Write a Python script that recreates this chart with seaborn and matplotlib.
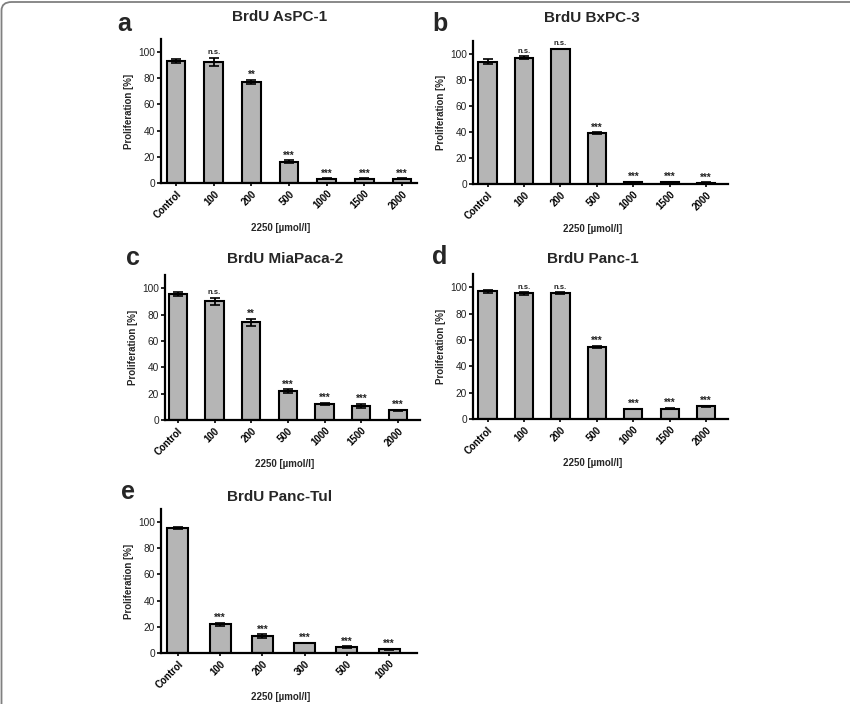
import matplotlib
matplotlib.use("Agg")
import matplotlib.pyplot as plt
import matplotlib.patches as mpatches
import seaborn as sns
import pandas as pd
import numpy as np

sns.set_theme(style="ticks")
plt.rcParams['font.family'] = ['Liberation Sans', 'DejaVu Sans']

# ---------------- data ----------------
cats_a = ["Control", "100", "200", "500", "1000", "1500", "2000"]
vals_a = [93.3, 92.7, 77.2, 16.2, 3.3, 3.3, 3.3]
errs_a = [1.8, 3.0, 1.8, 1.0, 0.4, 0.4, 0.4]
sig_a = ["", "n.s.", "**", "***", "***", "***", "***"]

cats_b = ["Control", "100", "200", "500", "1000", "1500", "2000"]
vals_b = [94.1, 97.2, 103.8, 38.9, 1.3, 1.3, 1.0]
errs_b = [2.0, 1.0, 0.3, 0.8, 0.3, 0.3, 0.3]
sig_b = ["", "n.s.", "n.s.", "***", "***", "***", "***"]

cats_c = ["Control", "100", "200", "500", "1000", "1500", "2000"]
vals_c = [95.5, 90.2, 74.0, 21.8, 12.4, 10.7, 7.4]
errs_c = [1.8, 2.6, 3.0, 1.4, 0.7, 1.4, 0.3]
sig_c = ["", "n.s.", "**", "***", "***", "***", "***"]

cats_d = ["Control", "100", "200", "500", "1000", "1500", "2000"]
vals_d = [96.8, 95.3, 95.5, 54.5, 7.6, 7.9, 9.6]
errs_d = [0.9, 1.0, 0.8, 1.0, 0.3, 0.5, 0.3]
sig_d = ["", "n.s.", "n.s.", "***", "***", "***", "***"]

cats_e = ["Control", "100", "200", "300", "500", "1000"]
vals_e = [95.6, 22.0, 12.8, 7.6, 4.4, 2.8]
errs_e = [1.0, 1.0, 1.5, 0.3, 0.7, 0.3]
sig_e = ["", "***", "***", "***", "***", "***"]

titles = ["BrdU AsPC-1", "BrdU BxPC-3", "BrdU MiaPaca-2", "BrdU Panc-1", "BrdU Panc-Tul"]
letters = ["a", "b", "c", "d", "e"]
xlabel = "2250 [\u00b5mol/l]"
ylabel = "Proliferation [%]"

panels = [
    (cats_a, vals_a, errs_a, sig_a),
    (cats_b, vals_b, errs_b, sig_b),
    (cats_c, vals_c, errs_c, sig_c),
    (cats_d, vals_d, errs_d, sig_d),
    (cats_e, vals_e, errs_e, sig_e),
]

W, H = 850, 704
fig = plt.figure(figsize=(W / 100, H / 100), dpi=100)

def fx(px):
    return px / W

def fy(py):
    return 1 - py / H

# axes boxes in pixel coords: left, right, top, bottom
boxes = [
    (161, 417, 39, 183),
    (473, 728, 41, 184),
    (165, 420, 275, 420),
    (473, 728, 274, 419),
    (161, 417, 509, 653),
]
xlims = [(-0.4, 6.4), (-0.4, 6.6), (-0.35, 6.6), (-0.4, 6.6), (-0.4, 5.66)]
title_pos = [(280, 17), (592, 18), (285, 259), (593, 259), (280, 497)]
letter_pos = [(124, 24), (440, 24), (133, 258), (440, 257), (128, 492)]
xlabel_y = [228, 229, 464, 463, 697]

bar_color = "#b5b5b5"
for i, (cats, vals, errs, sig) in enumerate(panels):
    l, r, t, b = boxes[i]
    ax = fig.add_axes([fx(l), fy(b), fx(r) - fx(l), (b - t) / H])
    df = pd.DataFrame({"cat": cats, "val": vals})
    sns.barplot(data=df, x="cat", y="val", ax=ax, color=bar_color, width=0.5,
                edgecolor="black", linewidth=1.5, errorbar=None, saturation=1)
    pos = np.arange(len(cats))
    ax.errorbar(pos, vals, yerr=errs, fmt="none", ecolor="black",
                elinewidth=1.3, capsize=3.8, capthick=1.2, zorder=5)
    for p, v, e, s in zip(pos, vals, errs, sig):
        if not s:
            continue
        if s == "n.s.":
            ax.annotate(s, (p, v + e), xytext=(0, 2.5), textcoords="offset points",
                        ha="center", va="baseline", fontsize=5.5,
                        fontweight="bold", color="#222222")
        else:
            ax.annotate(s, (p, v + e), xytext=(0, 1.3), textcoords="offset points",
                        ha="center", va="baseline", fontsize=7,
                        fontweight="bold", color="#222222")
    ax.set_ylim(0, 110)
    ax.set_xlim(*xlims[i])
    ax.set_yticks([0, 20, 40, 60, 80, 100])
    ax.tick_params(axis="y", labelsize=7.3, width=1.2, length=3, pad=1.5,
                   colors="black", labelcolor="#222222")
    ax.tick_params(axis="x", labelsize=7, width=1.2, length=2.5, pad=1.5, colors="black")
    for lab in ax.get_xticklabels():
        lab.set_rotation(45)
        lab.set_ha("right")
        lab.set_rotation_mode("anchor")
        lab.set_fontweight("bold")
    ax.set_xlabel("")
    ax.set_ylabel(ylabel, fontsize=7, fontweight="bold", labelpad=3)
    for side in ["top", "right"]:
        ax.spines[side].set_visible(False)
    for side in ["left", "bottom"]:
        ax.spines[side].set_linewidth(1.6)
        ax.spines[side].set_color("black")
    ax.set_facecolor("white")
    cx = (l + r) / 2 - 8
    fig.text(fx(cx), fy(xlabel_y[i]), xlabel, ha="center", va="center",
             fontsize=7, fontweight="bold")
    tx, ty = title_pos[i]
    fig.text(fx(tx), fy(ty), titles[i], ha="center", va="center",
             fontsize=11, fontweight="bold")
    lx, ly = letter_pos[i]
    fig.text(fx(lx), fy(ly), letters[i], ha="center", va="center",
             fontsize=18, fontweight="bold")

# frame border (top and left visible)
border = mpatches.FancyBboxPatch((fx(1.5), -0.2), 1.5, 1.2 - 2.0 / H,
                                 boxstyle="round,pad=0,rounding_size=0.012",
                                 transform=fig.transFigure, fill=False,
                                 edgecolor="#808080", linewidth=1.3)
fig.patches.append(border)

fig.savefig("out.png", dpi=100, facecolor="white")
